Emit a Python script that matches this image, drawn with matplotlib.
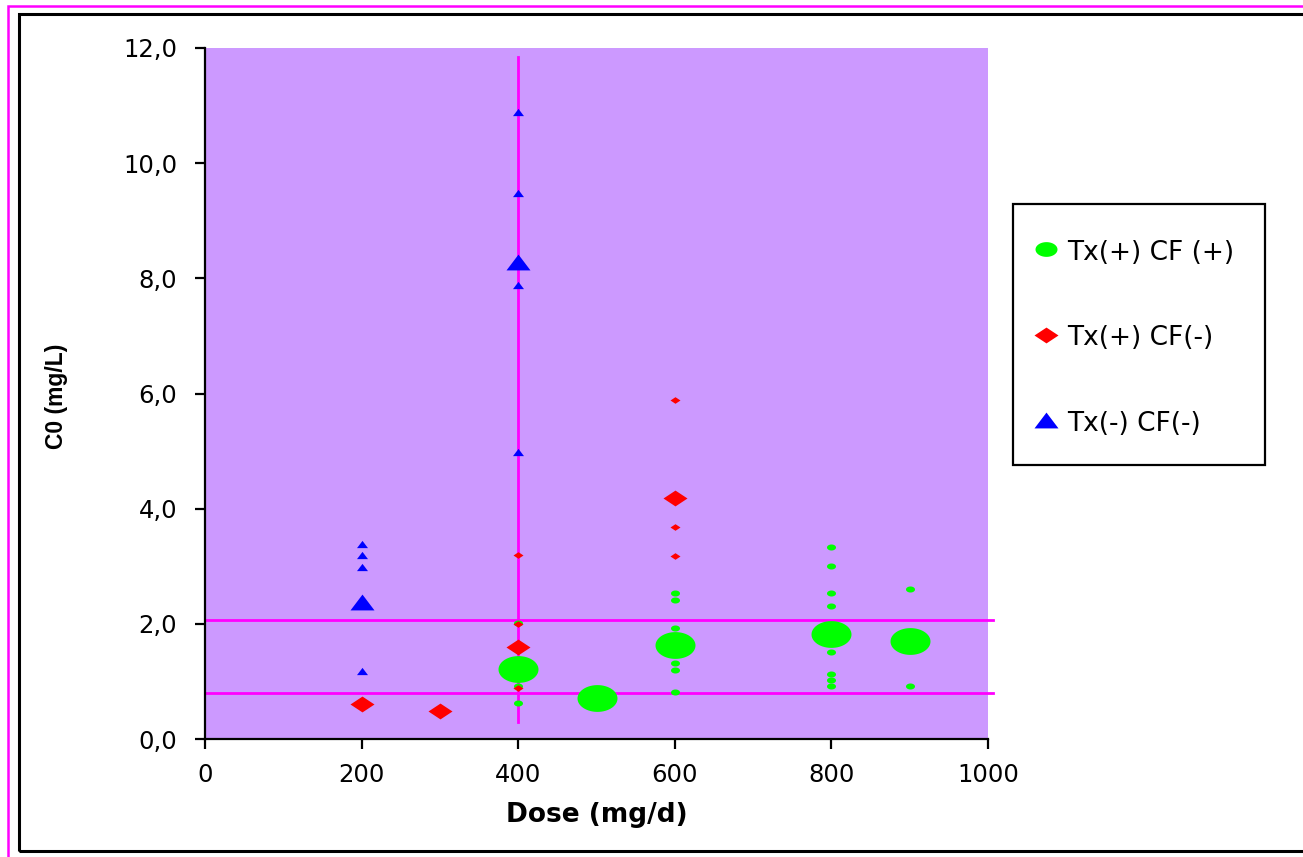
import matplotlib
matplotlib.use("Agg")
import matplotlib.pyplot as plt
import numpy as np
from matplotlib.path import Path
from matplotlib.lines import Line2D
from matplotlib.patches import Rectangle
from matplotlib.ticker import FuncFormatter, FixedLocator

plt.rcParams['font.family'] = ['DejaVu Sans']

# ---- data ----
green_small_x = [400, 400, 400, 600, 600, 600, 600, 600, 600,
                 800, 800, 800, 800, 800, 800, 800, 800, 900, 900]
green_small_y = [2.01, 0.92, 0.63, 2.54, 2.41, 1.93, 1.32, 1.20, 0.82,
                 3.33, 3.00, 2.54, 2.31, 1.51, 1.13, 1.02, 0.92, 2.60, 0.92]
green_big_x = [400, 500, 600, 800, 900]
green_big_y = [1.22, 0.71, 1.63, 1.82, 1.70]

red_small_x = [400, 400, 400, 600, 600, 600]
red_small_y = [3.20, 2.00, 0.89, 5.89, 3.68, 3.18]
red_big_x = [200, 300, 400, 600]
red_big_y = [0.60, 0.49, 1.60, 4.19]

blue_small_x = [200, 200, 200, 200, 400, 400, 400, 400]
blue_small_y = [3.39, 3.20, 2.99, 1.18, 10.89, 9.48, 7.88, 4.98]
blue_big_x = [200, 400]
blue_big_y = [2.38, 8.28]

vline_x = [400, 400]
vline_y = [0.30, 11.84]
hline_x = [0, 1006]
hline_upper_y = [2.07, 2.07]
hline_lower_y = [0.80, 0.80]

x_ticks = [0, 200, 400, 600, 800, 1000]
y_ticks = [0, 2, 4, 6, 8, 10, 12]
legend_labels = ['Tx(+) CF (+)', 'Tx(+) CF(-)', 'Tx(-) CF(-)']

# ---- marker shapes ----
t = np.linspace(0, 2 * np.pi, 60)
ellipse = Path(np.column_stack([np.cos(t), 0.67 * np.sin(t)]), closed=True)
diamond = Path([(0, 0.66), (1, 0), (0, -0.66), (-1, 0), (0, 0.66)], closed=True)
triangle = Path([(-1, -0.66), (1, -0.66), (0, 0.66), (-1, -0.66)], closed=True)

GREEN = '#00FF00'
RED = '#FF0000'
BLUE = '#0000FF'
PINK = '#FF00FF'
BG = '#CC99FF'

W, H = 1303, 857
fig = plt.figure(figsize=(W / 100, H / 100), dpi=100)
fig.patch.set_facecolor('white')

# frames
fig.add_artist(Rectangle((8 / W, -0.1), 1.2, 1 - 6 / H + 0.1, transform=fig.transFigure,
                         fill=False, edgecolor=PINK, linewidth=1.8))
fig.add_artist(Rectangle((19 / W, 1 - 851 / H), 1.2, (851 - 14) / H, transform=fig.transFigure,
                         fill=False, edgecolor='black', linewidth=2.2))

ax = fig.add_axes([205 / W, 1 - 739 / H, (988 - 205) / W, (739 - 48) / H])
ax.set_facecolor(BG)
ax.set_xlim(0, 1000)
ax.set_ylim(0, 12)
for s in ['top', 'right']:
    ax.spines[s].set_visible(False)
for s in ['left', 'bottom']:
    ax.spines[s].set_linewidth(1.6)
    ax.spines[s].set_color('black')

ax.xaxis.set_major_locator(FixedLocator(x_ticks))
ax.yaxis.set_major_locator(FixedLocator(y_ticks))
ax.yaxis.set_major_formatter(FuncFormatter(lambda v, p: f"{v:.1f}".replace('.', ',')))
ax.tick_params(axis='both', direction='out', length=7, width=1.6, labelsize=17.5)
ax.tick_params(axis='x', pad=10)
ax.tick_params(axis='y', pad=13)

# reference lines
ax.plot(vline_x, vline_y, color=PINK, lw=2, zorder=2, clip_on=False)
ax.plot(hline_x, hline_upper_y, color=PINK, lw=2, zorder=2, clip_on=False)
ax.plot(hline_x, hline_lower_y, color=PINK, lw=2, zorder=2, clip_on=False)

def pts(px):
    return px * 72 / 100

ax.plot(green_small_x, green_small_y, ls='none', marker=ellipse, ms=pts(9), color=GREEN, mew=0, zorder=3)
ax.plot(green_big_x, green_big_y, ls='none', marker=ellipse, ms=pts(40), color=GREEN, mew=0, zorder=3)
ax.plot(red_small_x, red_small_y, ls='none', marker=diamond, ms=pts(10), color=RED, mew=0, zorder=4)
ax.plot(red_big_x, red_big_y, ls='none', marker=diamond, ms=pts(24), color=RED, mew=0, zorder=4)
ax.plot(blue_small_x, blue_small_y, ls='none', marker=triangle, ms=pts(11), color=BLUE, mew=0, zorder=4)
ax.plot(blue_big_x, blue_big_y, ls='none', marker=triangle, ms=pts(24), color=BLUE, mew=0, zorder=4)

fig.text(597 / W, 1 - 815 / H, 'Dose (mg/d)', ha='center', va='center',
         fontsize=19, fontweight='bold')
fig.text(56 / W, 1 - 396 / H, 'C0 (mg/L)', rotation=90, ha='center', va='center',
         fontsize=16.5, fontweight='bold', family=['Liberation Sans Narrow', 'Liberation Sans'])

# legend frame
fig.add_artist(Rectangle((1013 / W, 1 - 465 / H), (1265 - 1013) / W, (465 - 204) / H,
                         transform=fig.transFigure, fill=True, facecolor='white',
                         edgecolor='black', linewidth=1.6, zorder=5))

handles = [
    Line2D([], [], ls='none', marker=ellipse, ms=pts(22), color=GREEN, mew=0),
    Line2D([], [], ls='none', marker=diamond, ms=pts(24), color=RED, mew=0),
    Line2D([], [], ls='none', marker=triangle, ms=pts(24), color=BLUE, mew=0),
]
FS = 19
leg = fig.legend(handles, legend_labels, loc='upper left',
                 bbox_to_anchor=(1035 / W, 1 - 239 / H), fontsize=FS,
                 frameon=False, labelspacing=2.22, handlelength=0.8,
                 handleheight=1.0, handletextpad=0.4, borderpad=0, borderaxespad=0)
leg.set_zorder(6)

fig.savefig('out.png', dpi=100)
